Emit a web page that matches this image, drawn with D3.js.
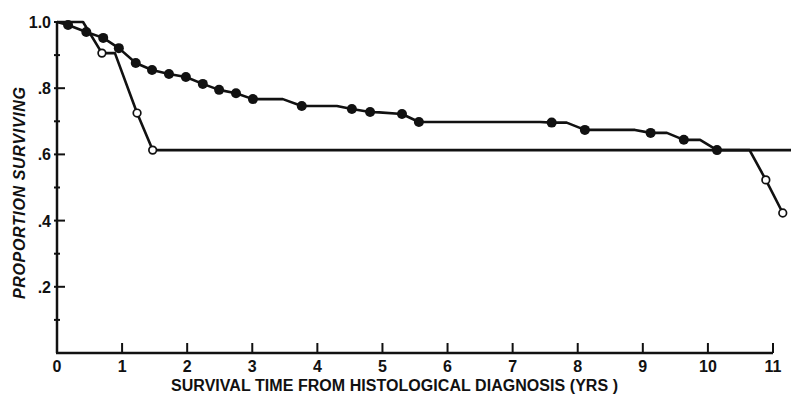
<!DOCTYPE html>
<html>
<head>
<meta charset="utf-8">
<script src="https://cdn.jsdelivr.net/npm/d3@7"></script>
<style>
  html, body { margin: 0; padding: 0; background: #fff; }
  svg { display: block; }
</style>
</head>
<body>
<svg id="chart" width="791" height="395"></svg>
<script>
// survival time in years vs proportion surviving
const xTicks = [0, 1, 2, 3, 4, 5, 6, 7, 8, 9, 10, 11];
const yMajor = [0.2, 0.4, 0.6, 0.8, 1.0];
const yLabels = [".2", ".4", ".6", ".8", "1.0"];
const yMinor = [0.1, 0.3, 0.5, 0.7, 0.9];

// curve with filled markers (line vertices incl. step corners)
const filledLine = [
  [0, 1.0], [0.17, 0.991], [0.45, 0.970], [0.71, 0.952], [0.95, 0.921],
  [1.21, 0.876], [1.46, 0.855], [1.72, 0.843], [1.98, 0.834], [2.24, 0.813],
  [2.49, 0.795], [2.75, 0.785], [3.01, 0.767], [3.47, 0.767], [3.76, 0.746],
  [4.30, 0.746], [4.53, 0.737], [4.81, 0.728], [4.95, 0.727], [5.30, 0.722],
  [5.56, 0.698], [7.42, 0.698], [7.60, 0.696], [7.83, 0.696], [8.11, 0.674],
  [8.88, 0.674], [9.12, 0.665], [9.37, 0.665], [9.63, 0.644], [9.88, 0.644],
  [10.14, 0.613], [10.64, 0.613], [10.89, 0.523], [11.15, 0.423]
];
const filledDots = [
  [0.17, 0.991], [0.45, 0.970], [0.71, 0.952], [0.95, 0.921], [1.21, 0.876],
  [1.46, 0.855], [1.72, 0.843], [1.98, 0.834], [2.24, 0.813], [2.49, 0.795],
  [2.75, 0.785], [3.01, 0.767], [3.76, 0.746], [4.53, 0.737], [4.81, 0.728],
  [5.30, 0.722], [5.56, 0.698], [7.60, 0.696], [8.11, 0.674], [9.12, 0.665],
  [9.63, 0.644], [10.14, 0.613]
];

// curve with open markers
const openLine = [
  [0, 1.0], [0.40, 1.0], [0.69, 0.906], [0.89, 0.906], [1.23, 0.725],
  [1.47, 0.613], [11.3, 0.613]
];
const openDots = [
  [0.69, 0.906], [1.23, 0.725], [1.47, 0.613], [10.89, 0.523], [11.15, 0.423]
];

const svg = d3.select("#chart");
svg.append("rect").attr("width", 791).attr("height", 395).attr("fill", "#fff");

const x = d3.scaleLinear().domain([0, 11]).range([57, 773]);
const y = d3.scaleLinear().domain([0, 1]).range([353, 22]);
const ink = "#111";
const font = "'Liberation Sans', Arial, sans-serif";

const g = svg.append("g");

// axes
g.append("line")
  .attr("x1", x(0)).attr("x2", x(0))
  .attr("y1", y(0)).attr("y2", y(1))
  .attr("stroke", ink).attr("stroke-width", 2.5);
g.append("line")
  .attr("x1", x(0) - 1).attr("x2", x(11))
  .attr("y1", y(0)).attr("y2", y(0))
  .attr("stroke", ink).attr("stroke-width", 2.5);

// x ticks (pointing up) and labels
g.append("g").selectAll("line")
  .data(xTicks.filter(d => d > 0))
  .enter().append("line")
  .attr("x1", d => x(d)).attr("x2", d => x(d))
  .attr("y1", y(0)).attr("y2", y(0) - 10)
  .attr("stroke", ink).attr("stroke-width", 2);

g.append("g").selectAll("text")
  .data(xTicks)
  .enter().append("text")
  .attr("x", d => x(d))
  .attr("y", y(0) + 19)
  .attr("text-anchor", "middle")
  .attr("fill", ink)
  .style("font-family", font)
  .style("font-size", "16px")
  .style("font-weight", "bold")
  .text(d => d);

// y ticks
g.append("g").selectAll("line")
  .data(yMajor)
  .enter().append("line")
  .attr("x1", x(0) - 3).attr("x2", x(0) + 8)
  .attr("y1", d => y(d)).attr("y2", d => y(d))
  .attr("stroke", ink).attr("stroke-width", 2);

g.append("g").selectAll("line")
  .data(yMinor)
  .enter().append("line")
  .attr("x1", x(0) - 3).attr("x2", x(0) + 3)
  .attr("y1", d => y(d)).attr("y2", d => y(d))
  .attr("stroke", ink).attr("stroke-width", 2);

g.append("g").selectAll("text")
  .data(yMajor)
  .enter().append("text")
  .attr("x", x(0) - 6)
  .attr("y", d => y(d) + 6)
  .attr("text-anchor", "end")
  .attr("fill", ink)
  .style("font-family", font)
  .style("font-size", "16px")
  .style("font-weight", "bold")
  .text((d, i) => yLabels[i]);

// axis titles
svg.append("text")
  .attr("x", 171)
  .attr("y", 391)
  .attr("textLength", 447)
  .attr("lengthAdjust", "spacing")
  .attr("fill", ink)
  .style("font-family", font)
  .style("font-size", "16px")
  .style("font-weight", "bold")
  .style("white-space", "pre")
  .text("SURVIVAL TIME FROM HISTOLOGICAL DIAGNOSIS (YRS )");

svg.append("text")
  .attr("transform", "translate(25,193) rotate(-90)")
  .attr("text-anchor", "middle")
  .attr("textLength", 212)
  .attr("lengthAdjust", "spacing")
  .attr("fill", ink)
  .style("font-family", font)
  .style("font-size", "16px")
  .style("font-style", "italic")
  .style("font-weight", "bold")
  .text("PROPORTION SURVIVING");

// curves
const line = d3.line().x(d => x(d[0])).y(d => y(d[1]));

g.append("path")
  .datum(openLine)
  .attr("d", line)
  .attr("fill", "none")
  .attr("stroke", ink)
  .attr("stroke-width", 2.6)
  .attr("stroke-linejoin", "round");

g.append("path")
  .datum(filledLine)
  .attr("d", line)
  .attr("fill", "none")
  .attr("stroke", ink)
  .attr("stroke-width", 2.6)
  .attr("stroke-linejoin", "round");

g.append("g").selectAll("circle")
  .data(openDots)
  .enter().append("circle")
  .attr("cx", d => x(d[0]))
  .attr("cy", d => y(d[1]))
  .attr("r", 3.8)
  .attr("fill", "#fff")
  .attr("stroke", ink)
  .attr("stroke-width", 1.7);

g.append("g").selectAll("circle")
  .data(filledDots)
  .enter().append("circle")
  .attr("cx", d => x(d[0]))
  .attr("cy", d => y(d[1]))
  .attr("r", 5)
  .attr("fill", ink);
</script>
</body>
</html>
